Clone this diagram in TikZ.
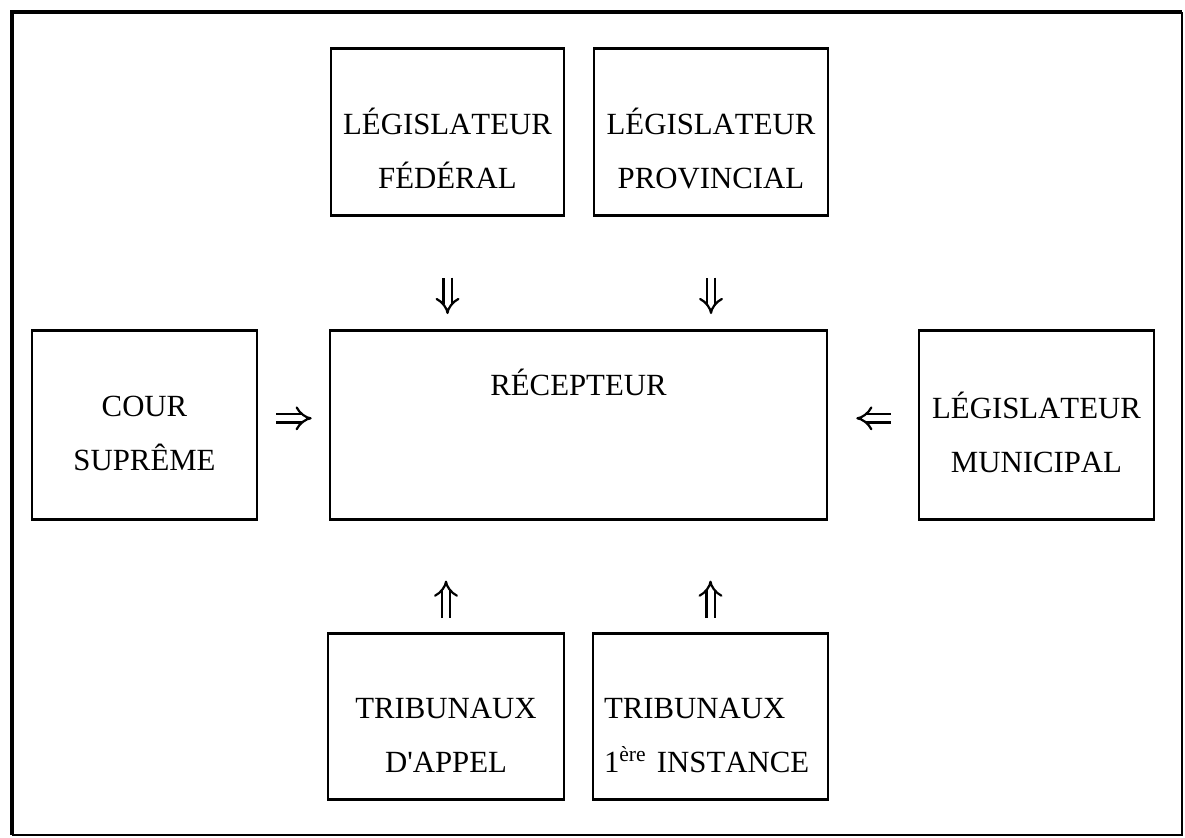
\documentclass[tikz,border=0pt]{standalone}
\usepackage{fontspec}
\setmainfont{Liberation Serif}[Kerning=Off]
\usetikzlibrary{arrows.meta}

% two centred lines with struts fixing the space above and below
\newcommand\twolines[4]{\rule{0pt}{#1}#2\\#3\rule[-#4]{0pt}{#4}}

\begin{document}
\begin{tikzpicture}[
    x=0.5pt, y=-0.5pt,
    box/.style={draw, line width=1.3pt, inner xsep=0pt, inner ysep=0pt,
                anchor=north, align=center,
                font={\fontsize{15.4pt}{27pt}\selectfont}},
    dbl/.style={double, double distance=3pt, line width=1.1pt, -{Implies}},
  ]
  \useasboundingbox (0,0) rectangle (1185,837);

  % outer frame
  \draw[line width=2pt] (12,835) -- (12,12) -- (1182,12);
  \draw[line width=1.1pt] (1182,12) -- (1182,835) -- (12,835);

  % upper row
  \node[box, minimum width=116.5pt] (fed)  at (447.5,47)
        {\twolines{43pt}{LÉGISLATEUR}{FÉDÉRAL}{13.5pt}};
  \node[box, minimum width=117pt]   (prov) at (711,47)
        {\twolines{43pt}{LÉGISLATEUR}{PROVINCIAL}{13.5pt}};

  % middle row
  \node[box, minimum width=112.5pt] (cour) at (144.5,329)
        {\twolines{43pt}{COUR}{SUPRÊME}{24.5pt}};
  \node[box, minimum width=248.5pt] (rec)  at (578.5,329)
        {\rule{0pt}{32.5pt}RÉCEPTEUR\rule[-62pt]{0pt}{62pt}};
  \node[box, minimum width=117.5pt] (mun)  at (1036.5,329)
        {\twolines{44pt}{LÉGISLATEUR}{MUNICIPAL}{23.5pt}};

  % lower row
  \node[box, minimum width=118pt] (app)  at (446,632)
        {\twolines{42.5pt}{TRIBUNAUX}{D\textquotesingle APPEL}{13.5pt}};
  \node[box, align=left, text width=106.5pt, inner xsep=5.5pt] (inst) at (710.5,632)
        {\twolines{42.5pt}{TRIBUNAUX}{1\textsuperscript{ère} INSTANCE}{13.5pt}};

  % arrows toward the receiver
  \draw[dbl, shorten <=30.5pt, shorten >=7.5pt] (fed.south)  -- (fed.south |- rec.north);
  \draw[dbl, shorten <=30.5pt, shorten >=7.5pt] (prov.south) -- (prov.south |- rec.north);
  \draw[dbl, shorten <=7pt, shorten >=30pt] (app.north)  -- (app.north |- rec.south);
  \draw[dbl, shorten <=7pt, shorten >=30pt] (inst.north) -- (inst.north |- rec.south);
  \draw[dbl, shorten <=9pt, shorten >=8.5pt]
        ([yshift=3.25pt]cour.east) -- ([yshift=3.25pt]cour.east -| rec.west);
  \draw[dbl, shorten <=13.5pt, shorten >=14pt]
        ([yshift=3.25pt]mun.west) -- ([yshift=3.25pt]mun.west -| rec.east);
\end{tikzpicture}
\end{document}
